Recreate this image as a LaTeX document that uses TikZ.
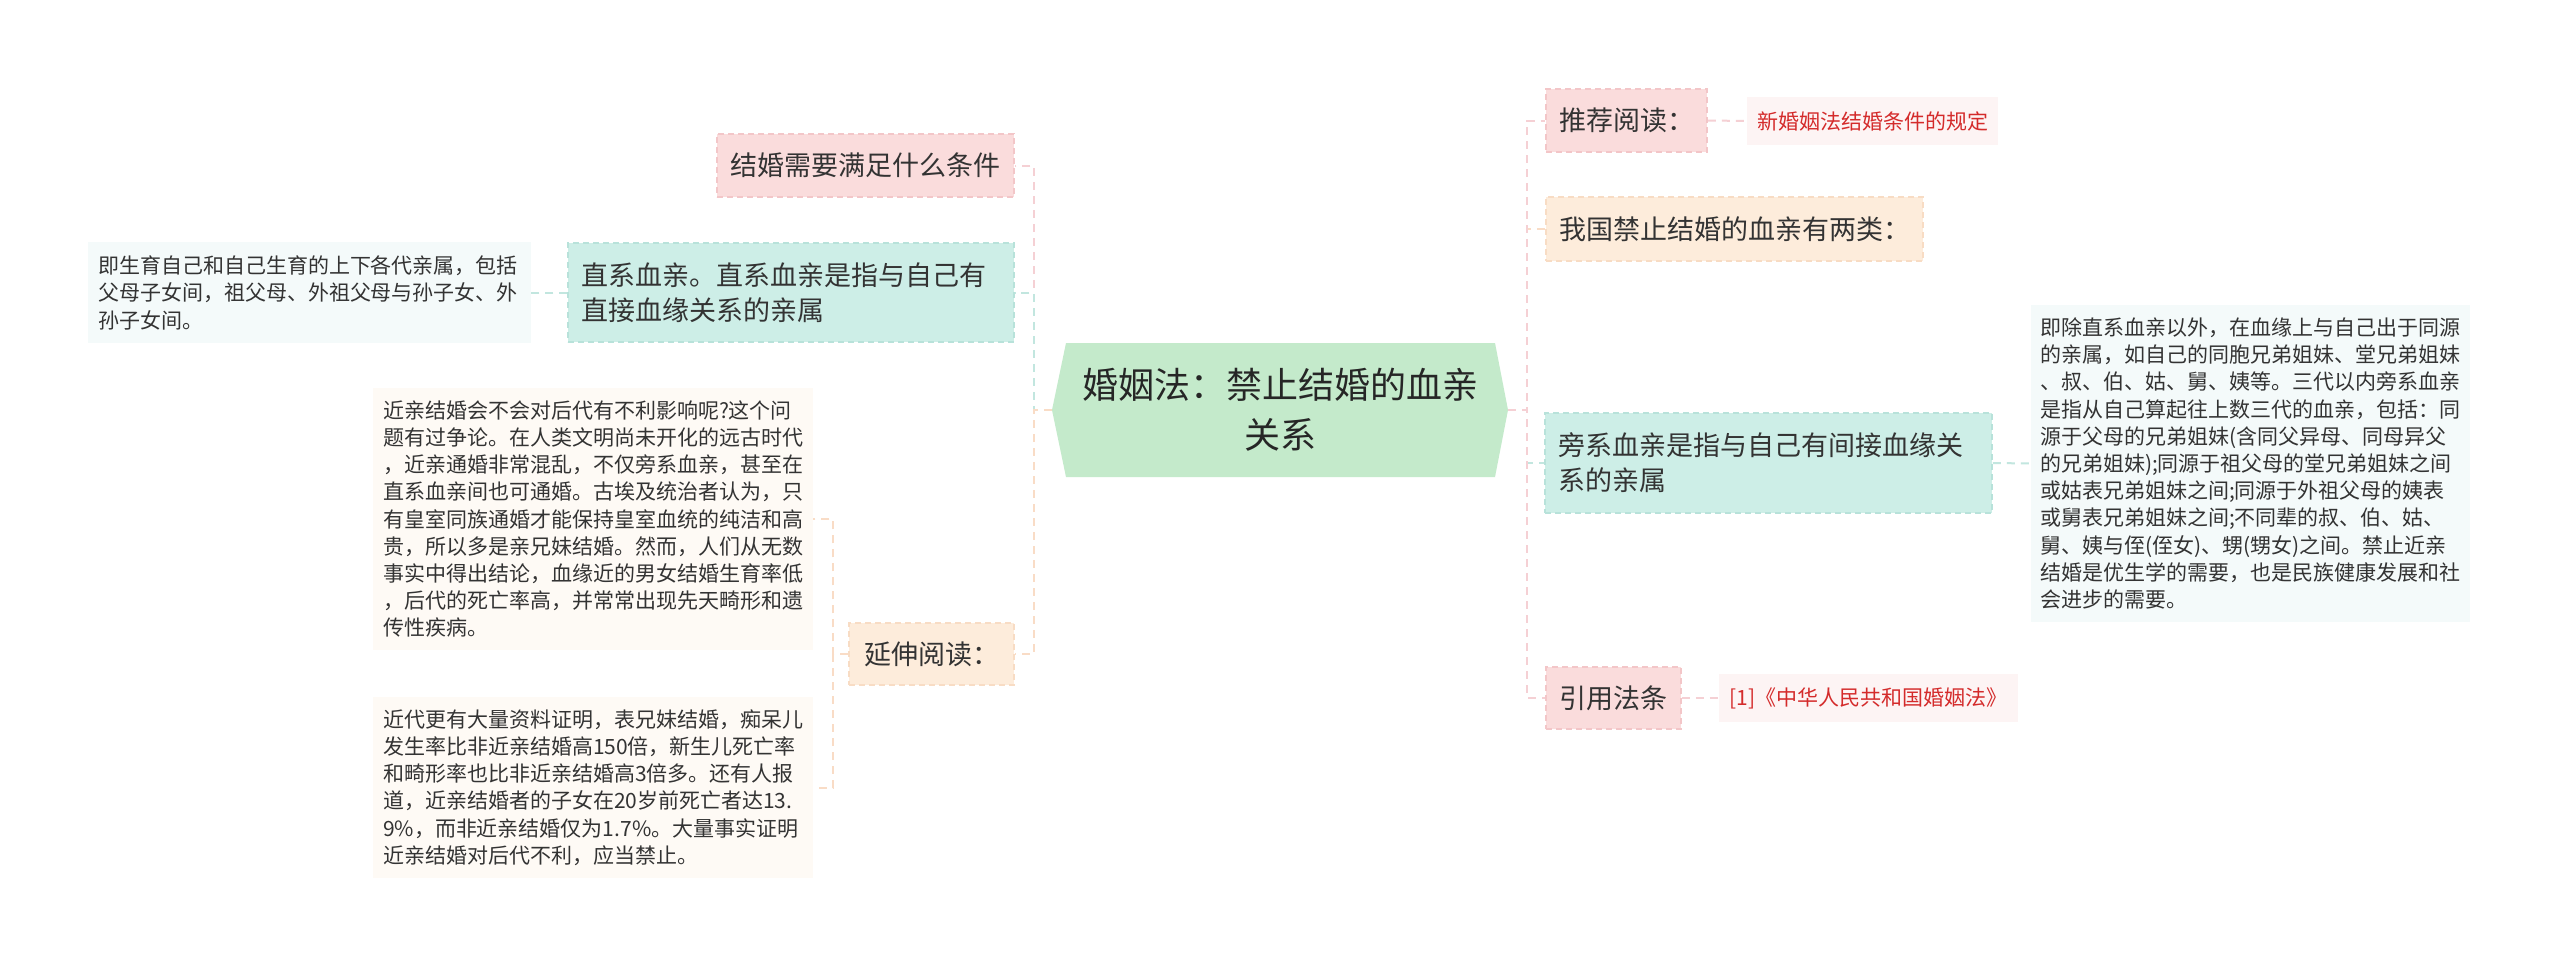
\documentclass[tikz,border=0pt]{standalone}
\usepackage{fontspec}
\setmainfont{Noto Sans CJK SC}
\definecolor{txt}{HTML}{333333}
\definecolor{redtxt}{HTML}{D42B2B}
\definecolor{greenF}{HTML}{C4EACB}
\definecolor{pinkF}{HTML}{FADCDC}
\definecolor{pinkD}{HTML}{F3C6C8}
\definecolor{pinkL}{HTML}{F5D0D4}
\definecolor{tealF}{HTML}{CDEEE7}
\definecolor{tealD}{HTML}{B8E2DA}
\definecolor{tealL}{HTML}{C2E6DF}
\definecolor{peachF}{HTML}{FDECDB}
\definecolor{peachD}{HTML}{F8DCC4}
\definecolor{peachL}{HTML}{F9DCC6}
\definecolor{tealP}{HTML}{F4FAFA}
\definecolor{peachP}{HTML}{FEFAF5}
\definecolor{pinkP}{HTML}{FDF4F4}
\begin{document}
\begin{tikzpicture}[x=1pt,y=-1pt,
  every node/.style={text=txt, inner ysep=0pt, inner xsep=0pt},
  lone/.style={rectangle, font=\fontsize{27}{35}\selectfont, line width=1.5pt, dash pattern=on 6pt off 4pt, align=left},
  pinkbox/.style={lone, fill=pinkF, draw=pinkD},
  tealbox/.style={lone, fill=tealF, draw=tealD},
  peachbox/.style={lone, fill=peachF, draw=peachD},
  detbox/.style={rectangle, font=\fontsize{21}{27.2}\selectfont, align=left},
  redbox/.style={rectangle, font=\fontsize{21}{27}\selectfont, fill=pinkP, text=redtxt},
  conn/.style={line width=2pt, dash pattern=on 8pt off 6pt},
  pinkc/.style={conn, draw=pinkL},
  tealc/.style={conn, draw=tealL},
  peachc/.style={conn, draw=peachL}
]
\fill[white] (0,0) rectangle (2560,969);
\useasboundingbox (0,0) rectangle (2560,969);

% central node
\fill[greenF] (1052,410) -- (1066,343) -- (1495,343) -- (1508,410) -- (1495,477) -- (1066,477) -- cycle;
\node[align=center, font=\fontsize{36}{50}\selectfont, text=black!85, minimum width=456, minimum height=134] (c) at (1280,410) {婚姻法：禁止结婚的血亲\\关系};

% left branch nodes
\node[pinkbox, minimum width=297, minimum height=63] (n1) at (865.5,165.5) {结婚需要满足什么条件};
\node[tealbox, minimum width=446, minimum height=99, inner xsep=13pt, text width=420pt] (n2) at (791,292.5) {直系血亲。直系血亲是指与自己有\\直接血缘关系的亲属};
\node[detbox, fill=tealP, minimum width=443, minimum height=101, inner xsep=10pt, text width=423pt, font=\fontsize{21}{27.5}\selectfont] (n2d) at (309.5,292.5) {即生育自己和自己生育的上下各代亲属，包括\\父母子女间，祖父母、外祖父母与孙子女、外\\孙子女间。};
\node[peachbox, minimum width=165, minimum height=62] (n3) at (931.5,654) {延伸阅读：};
\node[detbox, fill=peachP, minimum width=440, minimum height=262, inner xsep=10pt, text width=420pt] (n3a) at (593,519) {近亲结婚会不会对后代有不利影响呢?这个问\\题有过争论。在人类文明尚未开化的远古时代\\，近亲通婚非常混乱，不仅旁系血亲，甚至在\\直系血亲间也可通婚。古埃及统治者认为，只\\有皇室同族通婚才能保持皇室血统的纯洁和高\\贵，所以多是亲兄妹结婚。然而，人们从无数\\事实中得出结论，血缘近的男女结婚生育率低\\，后代的死亡率高，并常常出现先天畸形和遗\\传性疾病。};
\node[detbox, fill=peachP, minimum width=440, minimum height=181, inner xsep=10pt, text width=420pt] (n3b) at (593,787.5) {近代更有大量资料证明，表兄妹结婚，痴呆儿\\发生率比非近亲结婚高150倍，新生儿死亡率\\和畸形率也比非近亲结婚高3倍多。还有人报\\道，近亲结婚者的子女在20岁前死亡者达13.\\9\%，而非近亲结婚仅为1.7\%。大量事实证明\\近亲结婚对后代不利，应当禁止。};

% right branch nodes
\node[pinkbox, minimum width=161, minimum height=63] (r1) at (1626.5,120.5) {推荐阅读：};
\node[redbox, minimum width=251, minimum height=48] (r1d) at (1872.5,121) {新婚姻法结婚条件的规定};
\node[peachbox, minimum width=377, minimum height=64] (r2) at (1734.5,229) {我国禁止结婚的血亲有两类：};
\node[tealbox, minimum width=447, minimum height=100, inner xsep=13pt, text width=421pt] (r3) at (1768.5,463) {旁系血亲是指与自己有间接血缘关\\系的亲属};
\node[detbox, fill=tealP, minimum width=439, minimum height=317, inner xsep=9pt, text width=421pt] (r3d) at (2250.5,463.5) {即除直系血亲以外，在血缘上与自己出于同源\\的亲属，如自己的同胞兄弟姐妹、堂兄弟姐妹\\、叔、伯、姑、舅、姨等。三代以内旁系血亲\\是指从自己算起往上数三代的血亲，包括：同\\源于父母的兄弟姐妹(含同父异母、同母异父\\的兄弟姐妹);同源于祖父母的堂兄弟姐妹之间\\或姑表兄弟姐妹之间;同源于外祖父母的姨表\\或舅表兄弟姐妹之间;不同辈的叔、伯、姑、\\舅、姨与侄(侄女)、甥(甥女)之间。禁止近亲\\结婚是优生学的需要，也是民族健康发展和社\\会进步的需要。};
\node[pinkbox, minimum width=135, minimum height=62] (r4) at (1613.5,698) {引用法条};
\node[redbox, minimum width=299, minimum height=48] (r4d) at (1868.5,698) {[1]《中华人民共和国婚姻法》};

% trunk coordinates
\coordinate (L) at (1034,410);
\coordinate (R) at (1527,410);
\coordinate (L3) at (833,654);

% left connectors
\draw[pinkc] (c.west) -- (L) |- (n1.east);
\draw[tealc] (c.west) -- (L) |- (n2.east);
\draw[peachc] (c.west) -- (L) |- (n3.east);
\draw[tealc] (n2.west) -- (n2d.east);
\draw[peachc] (n3.west) -- (L3) |- (n3a.east);
\draw[peachc] (L3) |- (n3b.east);

% right connectors
\draw[peachc] (c.east) -- (R) |- (r2.west);
\draw[pinkc] (c.east) -- (R) |- (r1.west);
\draw[tealc] (c.east) -- (R) |- (r3.west);
\draw[pinkc] (c.east) -- (R) |- (r4.west);
\draw[pinkc] (r1.east) -- (r1d.west);
\draw[tealc] (r3.east) -- (r3d.west);
\draw[pinkc] (r4.east) -- (r4d.west);
\end{tikzpicture}
\end{document}
